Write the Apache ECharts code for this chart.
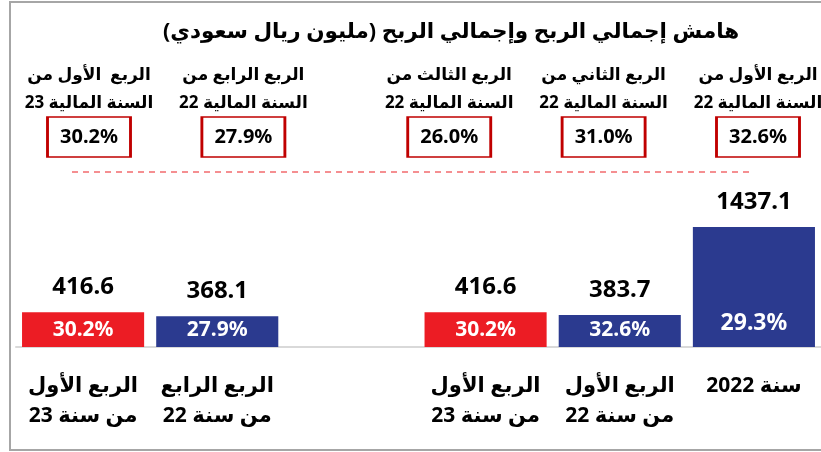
<!DOCTYPE html>
<html>
<head>
<meta charset="utf-8">
<script src="https://cdn.jsdelivr.net/npm/echarts@6/dist/echarts.min.js"></script>
<style>
html, body { margin: 0; padding: 0; background: #fff; }
#main { width: 821px; height: 452px; }
</style>
</head>
<body>
<div id="main" dir="rtl"></div>
<script>
// bars, read right to left
var barNames = ['سنة 2022', 'الربع الأول\nمن سنة 22', 'الربع الأول\nمن سنة 23', '', 'الربع الرابع\nمن سنة 22', 'الربع الأول\nمن سنة 23'];
var grossProfit = [1437.1, 383.7, 416.6, null, 368.1, 416.6];
var barMargin = [29.3, 32.6, 30.2, null, 27.9, 30.2];
var barIsFY23 = [false, false, true, false, false, true];

// header row, right to left
var headerNames = ['الربع الأول من\nالسنة المالية 22', 'الربع الثاني من\nالسنة المالية 22', 'الربع الثالث من\nالسنة المالية 22', 'الربع الرابع من\nالسنة المالية 22', 'الربع  الأول من\nالسنة المالية 23'];
var headerMargin = [32.6, 31.0, 26.0, 27.9, 30.2];

// layout of the header row (slot of each header on a 14-slot strip)
var headerSlots = [0, 3, 6, 10, 13];
var slotCount = 14;

var NAVY = '#2b3a8f', RED = '#ec1c24';
var FONT = "'Noto Sans', 'DejaVu Sans', sans-serif";

var chart = echarts.init(document.getElementById('main'));

var slots = [];
for (var i = 0; i < slotCount; i++) slots.push('');

var option = {
  animation: false,
  title: {
    text: 'هامش إجمالي الربح وإجمالي الربح (مليون ريال سعودي)',
    left: 158,
    top: 16,
    textStyle: { fontFamily: FONT, fontSize: 21.5, fontWeight: 'bold', color: '#000' }
  },
  graphic: [
    { type: 'rect', shape: { x: 10, y: 2, width: 840, height: 448 },
      style: { fill: 'none', stroke: '#a6a6a6', lineWidth: 2 }, silent: true },
    { type: 'line', shape: { x1: 72, y1: 172, x2: 750, y2: 172 },
      style: { stroke: '#f26b6e', lineWidth: 1.5, lineDash: [6, 5] }, silent: true }
  ],
  grid: [
    { left: 16, right: -2, top: 180, bottom: 105 },
    { left: 89, right: 63, top: 117, height: 40 }
  ],
  xAxis: [
    {
      type: 'category', gridIndex: 0, inverse: true, data: barNames,
      axisLine: { lineStyle: { color: '#d9d9d9', width: 2 } },
      axisTick: { show: false },
      axisLabel: { interval: 0, margin: 24, fontFamily: FONT, fontSize: 21, fontWeight: 'bold', lineHeight: 30, color: '#000' }
    },
    { type: 'category', gridIndex: 1, inverse: true, boundaryGap: false, data: slots, show: false }
  ],
  yAxis: [
    { type: 'value', gridIndex: 0, min: 0, max: 2000, show: false },
    { type: 'value', gridIndex: 1, min: -1, max: 1, show: false }
  ],
  series: [
    {
      type: 'bar', xAxisIndex: 0, yAxisIndex: 0,
      barWidth: '91%',
      data: grossProfit.map(function (v, i) {
        return { value: v, itemStyle: { color: barIsFY23[i] ? RED : NAVY } };
      }),
      label: {
        show: true, position: 'top', distance: 13,
        fontFamily: FONT, fontSize: 24, fontWeight: 'bold', color: '#000',
        formatter: function (p) { return p.value.toFixed(1); }
      }
    },
    {
      type: 'bar', xAxisIndex: 0, yAxisIndex: 0,
      barWidth: '91%', barGap: '-100%',
      data: grossProfit.map(function (v, i) {
        // the full-year bar carries a larger label, set a bit higher
        return i === 0 ? { value: v, label: { fontSize: 23, distance: 12 } } : v;
      }),
      itemStyle: { color: 'transparent' },
      label: {
        show: true, position: 'insideBottom', distance: 6,
        fontFamily: FONT, fontSize: 21, fontWeight: 'bold', color: '#fff',
        formatter: function (p) { return barMargin[p.dataIndex].toFixed(1) + '%'; }
      }
    },
    {
      type: 'scatter', xAxisIndex: 1, yAxisIndex: 1,
      symbol: 'rect', symbolSize: [83, 40],
      data: headerSlots.map(function (s) { return [s, 0]; }),
      itemStyle: { color: '#fff', borderColor: '#c00000', borderWidth: 2, opacity: 1 },
      label: {
        show: true, position: 'inside',
        fontFamily: FONT, fontSize: 20, fontWeight: 'bold', color: '#000',
        formatter: function (p) { return headerMargin[p.dataIndex].toFixed(1) + '%'; }
      }
    },
    {
      type: 'scatter', xAxisIndex: 1, yAxisIndex: 1,
      symbol: 'rect', symbolSize: [83, 40],
      data: headerSlots.map(function (s) { return [s, 0]; }),
      itemStyle: { color: 'transparent', opacity: 1 },
      label: {
        show: true, position: 'top', distance: 0,
        fontFamily: FONT, fontSize: 17, fontWeight: 'bold', lineHeight: 28, color: '#000',
        formatter: function (p) { return headerNames[p.dataIndex]; }
      }
    }
  ]
};

chart.setOption(option);
</script>
</body>
</html>
